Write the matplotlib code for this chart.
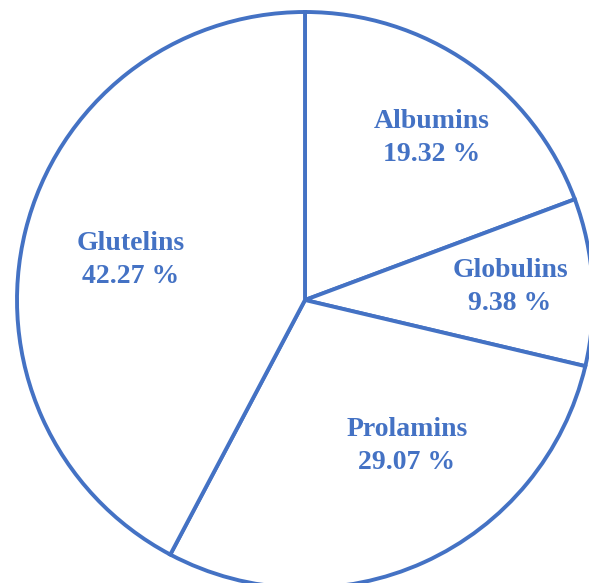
import numpy as np
import matplotlib.pyplot as plt

# protein fractions (%)
fractions = ["Albumins", "Globulins", "Prolamins", "Glutelins"]
shares = [19.32, 9.38, 29.07, 42.27]

blue = "#4472C4"

fig = plt.figure(figsize=(5.89, 5.83), dpi=100, facecolor="white")
ax = fig.add_axes([0, 0, 1, 1])

cx, cy, r = 305, 283, 288
wedges, _ = ax.pie(shares, center=(cx, cy), radius=r, startangle=90,
                   counterclock=False, frame=True,
                   wedgeprops=dict(facecolor="white", edgecolor=blue, linewidth=2.8))
ax.set_xlim(0, 589)
ax.set_ylim(0, 583)
ax.set_aspect("equal")
ax.axis("off")

# label placement: fraction of radius and angle nudge per wedge
dist = [0.715, 0.713, 0.618, 0.62]
nudge = [-3.3, 0, 10.5, 1]
for w, name, val, d, n in zip(wedges, fractions, shares, dist, nudge):
    ang = np.deg2rad((w.theta1 + w.theta2) / 2 + n)
    x = cx + d * r * np.cos(ang)
    y = cy + d * r * np.sin(ang)
    ax.text(x, y, f"{name}\n{val:.2f} %", ha="center", va="center",
            color=blue, fontsize=20, fontweight="bold",
            family="Liberation Serif", linespacing=1.45)

fig.savefig("out.png", dpi=100, facecolor="white")
